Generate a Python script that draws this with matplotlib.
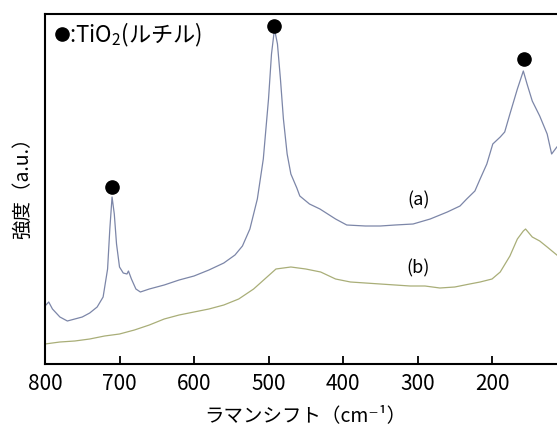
import matplotlib
matplotlib.use('Agg')
import matplotlib.pyplot as plt
import numpy as np

plt.rcParams['font.family'] = ['Noto Sans CJK JP', 'DejaVu Sans']
plt.rcParams['mathtext.fontset'] = 'custom'
plt.rcParams['mathtext.rm'] = 'Noto Sans CJK JP'

# spectrum (a): Raman shift (cm-1) vs intensity (a.u.)
shift_a = [800, 795, 790, 780, 770, 760, 750, 740, 730, 722, 716, 713, 710,
           707, 704, 700, 695, 690, 688, 684, 678, 672, 660, 640, 620, 600,
           580, 560, 545, 535, 525, 515, 507, 500, 496, 492, 488, 484, 480,
           475, 470, 462, 458, 445, 431, 410, 395, 370, 350, 330, 306, 283,
           260, 243, 234, 223, 216, 207, 199, 189, 183, 176, 166, 158, 153,
           146, 136, 126, 120, 113]
int_a = [58, 62, 55, 47, 43, 45, 47, 51, 57, 67, 95, 135, 167,
         150, 120, 97, 91, 90, 93, 85, 75, 72, 75, 79, 84, 88,
         94, 101, 109, 118, 135, 165, 205, 265, 310, 335, 320, 285, 245,
         210, 190, 176, 168, 160, 155, 145, 139, 138, 138, 139, 140, 145,
         152, 158, 165, 173, 185, 200, 220, 227, 232, 250, 275, 293, 280,
         263, 248, 230, 210, 217]

# spectrum (b)
shift_b = [800, 780, 760, 740, 720, 700, 680, 660, 640, 620, 600, 580, 560,
           540, 520, 505, 490, 470, 450, 430, 410, 390, 370, 350, 330, 310,
           290, 270, 250, 230, 216, 200, 189, 176, 166, 158, 155, 146, 136,
           126, 113]
int_b = [20, 22, 23, 25, 28, 30, 34, 39, 45, 49, 52, 55, 59,
         65, 75, 85, 95, 97, 95, 92, 85, 82, 81, 80, 79, 78,
         78, 76, 77, 80, 82, 85, 92, 108, 125, 133, 135, 127, 123,
         117, 109]

# rutile peak markers
peak_shift = [710, 493, 157]
peak_int = [177, 338, 305]

xticks = [800, 700, 600, 500, 400, 300, 200]

fig = plt.figure(figsize=(5.57, 4.27), dpi=100)
ax = fig.add_axes([45 / 557, 62 / 427, 512 / 557, 350 / 427])

ax.plot(shift_a, int_a, color='#7c86a8', lw=0.9)
ax.plot(shift_b, int_b, color='#a9ae78', lw=0.9)
ax.plot(peak_shift, peak_int, 'o', color='black', ms=9.5, clip_on=False)

ax.text(298, 165, '(a)', fontsize=13, ha='center', va='center')
ax.text(299, 97, '(b)', fontsize=13, ha='center', va='center')

# legend: dot marker + label
ax.plot([0.033], [0.943], 'o', color='black', ms=9.5, transform=ax.transAxes)
ax.text(0.046, 0.943, ':TiO$_2$(ルチル)', transform=ax.transAxes,
        fontsize=16, ha='left', va='center')

ax.set_xlim(800, 112.8)
ax.set_ylim(0, 350)
ax.set_xticks(xticks)
ax.set_yticks([])
ax.tick_params(axis='x', direction='in', length=6, width=1.3, labelsize=15,
               pad=6)
for side in ['left', 'bottom', 'top']:
    ax.spines[side].set_linewidth(1.5)
ax.spines['right'].set_visible(False)

ax.set_xlabel('ラマンシフト（cm⁻¹）', fontsize=14)
ax.xaxis.set_label_coords(0.508, -0.115)
ax.set_ylabel('強度（a.u.）', fontsize=14)
ax.yaxis.set_label_coords(-0.024, 0.52)

fig.savefig('out.png', dpi=100)
